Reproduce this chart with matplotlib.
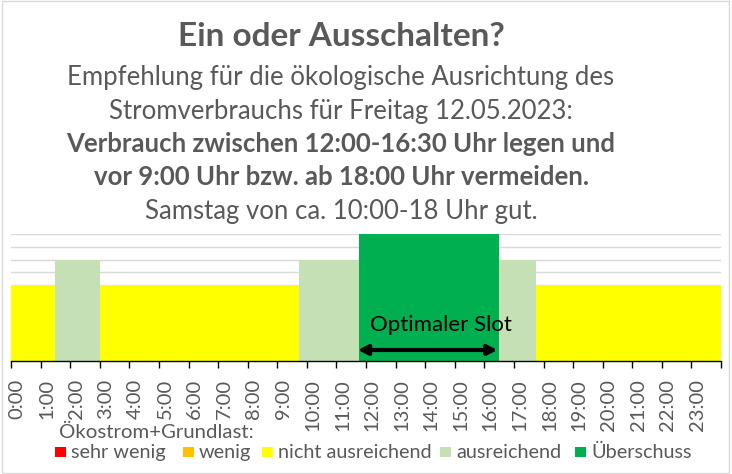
import matplotlib
matplotlib.use("Agg")
import matplotlib.pyplot as plt
import matplotlib.transforms as mtransforms
from matplotlib.patches import Rectangle
import numpy as np

# day split into blocks (hours), with level and eco-power class
seg_start = [0, 1.5, 3, 9.75, 11.75, 16.5, 17.75]
seg_end = [1.5, 3, 9.75, 11.75, 16.5, 17.75, 24]
seg_level = [6, 8, 6, 8, 10, 8, 6]
seg_class = ["nicht ausreichend", "ausreichend", "nicht ausreichend",
             "ausreichend", "Überschuss", "ausreichend", "nicht ausreichend"]

classes = ["sehr wenig", "wenig", "nicht ausreichend", "ausreichend", "Überschuss"]
class_colors = ["#FF0000", "#FFC000", "#FFFF00", "#C5E0B4", "#00B050"]

hour_labels = [f"{h}:00" for h in range(24)]

slot_start, slot_end = 11.72, 16.45
slot_text = "Optimaler Slot"

title = "Ein oder Ausschalten?"
sub_lines = [
    ("Empfehlung für die ökologische Ausrichtung des", "normal"),
    ("Stromverbrauchs für Freitag 12.05.2023:", "normal"),
    ("Verbrauch zwischen 12:00-16:30 Uhr legen und", "bold"),
    ("vor 9:00 Uhr bzw. ab 18:00 Uhr vermeiden.", "bold"),
    ("Samstag von ca. 10:00-18 Uhr gut.", "normal"),
]
legend_title = "Ökostrom+Grundlast:"

GRAY = "#595959"
W, H = 732, 474
plt.rcParams["font.family"] = ["Lato", "DejaVu Sans"]

fig = plt.figure(figsize=(W / 100, H / 100), dpi=100)
ax = fig.add_axes([11 / W, 1 - 361 / H, 710 / W, 126.7 / H])

color_of = dict(zip(classes, class_colors))
widths = [e - s for s, e in zip(seg_start, seg_end)]
ax.bar(seg_start, seg_level, width=widths, align="edge",
       color=[color_of[c] for c in seg_class], linewidth=0, zorder=2)

ax.set_xlim(0, 24)
ax.set_ylim(0, 10)
ax.set_yticks(range(0, 11))
ax.yaxis.grid(True, color="#D9D9D9", linewidth=1)
ax.set_axisbelow(True)
ax.tick_params(axis="y", left=False, labelleft=False)
for s in ["top", "right", "left"]:
    ax.spines[s].set_visible(False)
ax.spines["bottom"].set_color("black")
ax.spines["bottom"].set_linewidth(1)
ax.spines["bottom"].set_zorder(3)

ax.set_xticks(range(25))
ax.set_xticklabels(hour_labels + [""])
ax.set_xticks(np.arange(0.5, 24, 1), minor=True)
ax.tick_params(axis="x", which="major", direction="out", length=5, width=1,
               color="black", labelrotation=90, labelsize=14.5,
               labelcolor=GRAY, pad=8)
ax.tick_params(axis="x", which="minor", direction="in", length=5, width=1,
               color="black")
shift = mtransforms.ScaledTranslation(6 / 100, 0, fig.dpi_scale_trans)
for lab in ax.get_xticklabels():
    lab.set_transform(lab.get_transform() + shift)

# optimal slot arrow + label
ax.annotate("", xy=(slot_start, 0.87), xytext=(slot_end, 0.87),
            arrowprops=dict(arrowstyle="<|-|>", color="black", lw=3,
                            mutation_scale=14, shrinkA=0, shrinkB=0),
            zorder=4)
ax.text(14.54, 2.84, slot_text, ha="center",
        va="center", fontsize=16, color="black", zorder=4)

# title block
fig.text(341 / W, 1 - 46 / H, title, ha="center", va="baseline",
         fontsize=24, fontweight="bold", color=GRAY)
for i, (line, wt) in enumerate(sub_lines):
    fig.text(341 / W, 1 - (85 + 33.5 * i) / H, line, ha="center",
             va="baseline", fontsize=18.5, fontweight=wt, color=GRAY)

# legend
fig.text(59 / W, 1 - 438 / H, legend_title, ha="left", va="baseline",
         fontsize=14.7, color=GRAY)
legend_x = [55, 183, 262, 440, 575]
for x, name, col in zip(legend_x, classes, class_colors):
    fig.patches.append(Rectangle((x / W, 1 - 457 / H), 11 / W, 10 / H,
                                 transform=fig.transFigure, color=col,
                                 linewidth=0))
    fig.text((x + 16) / W, 1 - 458 / H, name, ha="left", va="baseline",
             fontsize=14.3, color=GRAY)

# outer chart border
fig.patches.append(Rectangle((2 / W, 1 / H), 727 / W, 472 / H,
                             transform=fig.transFigure, fill=False,
                             edgecolor="#D9D9D9", linewidth=1))

fig.savefig("out.png", dpi=100)
